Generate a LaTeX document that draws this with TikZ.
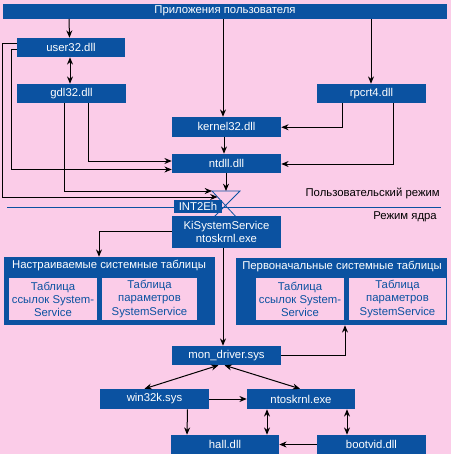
\documentclass[tikz,border=0pt]{standalone}
\usepackage{fontspec}
\setmainfont{Liberation Sans}
\usetikzlibrary{arrows.meta,calc}
\definecolor{bg}{HTML}{FBCCE8}
\definecolor{bx}{HTML}{0B52A1}
\begin{document}
\begin{tikzpicture}[x=0.75pt,y=-0.75pt,
  sz/.style 2 args={minimum width=#1*0.75pt,minimum height=#2*0.75pt},
  txt/.style={font=\fontsize{8.5}{9.8}\selectfont},
  blk/.style={txt,fill=bx,text=white,inner sep=0pt,align=center},
  pbox/.style={txt,fill=bg,text=bx,inner sep=0pt,align=center},
  bigbox/.style={fill=bx,inner sep=0pt},
  tip/.tip={Stealth[length=5.5pt,width=4.5pt,inset=1.8pt]},
  arr/.style={-tip,line width=0.75pt},
  darr/.style={tip-tip,line width=0.75pt},
  hg/.style={draw=bx,line width=0.6pt}]
\useasboundingbox (0,0) rectangle (451,454);
\fill[bg] (0,0) rectangle (451,454);

% separator line
\coordinate (sepL) at (7,207.5);
\coordinate (sepR) at (441,207.5);
\draw[bx,line width=0.75pt] (sepL) -- (sepR);

% hourglass
\coordinate (hgTL) at (212,191);
\coordinate (hgTR) at (240,191);
\coordinate (hgBL) at (211,220);
\coordinate (hgBR) at (239,220);
\coordinate (hgA) at (212,191);
\coordinate (hgB) at (217.5,197);
\coordinate (hgC) at (226,191);
\draw[hg] (hgBL) -- (hgTR) -- (hgTL) -- (hgBR);

% nodes
\node[blk,sz={444}{14.5}] (top) at (225,11.25) {Приложения пользователя};
\node[blk,sz={108}{19}] (user32) at (71,47.5) {user32.dll};
\node[blk,sz={109}{19}] (gdi32) at (71.5,93.5) {gdl32.dll};
\node[blk,sz={109}{19}] (rpcrt4) at (371.5,93.5) {rpcrt4.dll};
\node[blk,sz={109}{19.5}] (kernel32) at (226.5,126.75) {kernel32.dll};
\node[blk,sz={109}{19}] (ntdll) at (226.5,163.5) {ntdll.dll};
\node[blk,sz={48}{13}] (int) at (198,206.5) {INT2Eh};
\node[blk,sz={109}{32}] (ki) at (226.5,232) {KiSystemService\\ntoskrnl.exe};

\node[bigbox,sz={211}{68}] (lbox) at (109.5,291) {};
\node[txt,text=white,inner sep=0pt] (ltitle) at (109,266) {Настраиваемые системные таблицы};
\node[pbox,sz={88}{42}] (l1) at (53,299) {Таблица\\ссылок System-\\Service};
\node[pbox,sz={95}{42}] (l2) at (149.5,299) {Таблица\\параметров\\SystemService};

\node[bigbox,sz={211}{67}] (rbox) at (341.5,291.5) {};
\node[txt,text=white,inner sep=0pt] (rtitle) at (342,267) {Первоначальные системные таблицы};
\node[pbox,sz={88}{42}] (r1) at (300,299) {Таблица\\ссылок System-\\Service};
\node[pbox,sz={97}{42}] (r2) at (397.5,299) {Таблица\\параметров\\SystemService};

\node[blk,sz={109}{19}] (mon) at (226.5,355.5) {mon\_driver.sys};
\node[blk,sz={109}{20}] (win32k) at (154.5,399) {win32k.sys};
\node[blk,sz={108}{20}] (ntos) at (301,399) {ntoskrnl.exe};
\node[blk,sz={108}{19}] (hal) at (225,444.5) {hall.dll};
\node[blk,sz={109}{19}] (bootvid) at (371.5,444.5) {bootvid.dll};

\node[txt,anchor=east,inner sep=0pt] (umode) at (440,193) {Пользовательский режим};
\node[txt,anchor=east,inner sep=0pt] (kmode) at (437,217) {Режим ядра};

% connectors
\draw[arr] ($(top.south)+(-156,0)$) -- ($(user32.north)+(-1.5,0)$);
\draw[darr] ($(user32.south)+(-1,0)$) -- ($(gdi32.north)+(-1.5,0)$);
\draw[arr] ($(top.south)+(-2,0)$) -- ($(kernel32.north)+(-3.5,0)$);
\draw[arr] ($(top.south)+(146,0)$) -- ($(rpcrt4.north)+(-0.5,0)$);
\draw[arr] ($(rpcrt4.south)+(-29.5,0)$) |- ($(kernel32.east)+(0,0.5)$);
\draw[arr] ($(rpcrt4.south)+(21.5,0)$) |- ($(ntdll.east)+(0,0.5)$);
\draw[arr] ($(kernel32.south)+(-2.5,0)$) -- ($(ntdll.north)+(-2.5,0)$);
\draw[arr] ($(gdi32.south)+(16.5,0)$) |- ($(ntdll.west)+(0,-2.5)$);
\draw[arr] ($(user32.west)+(0,1.5)$) -- ++(-5,0) |- ($(ntdll.west)+(0,6)$);
\draw[arr] ($(user32.west)+(0,-4.5)$) -- ++(-14,0) |- (hgB);
\draw[arr] ($(gdi32.south)+(-7.5,0)$) |- (hgA);
\draw[arr] ($(ntdll.south)+(-0.5,0)$) -- (hgC);
\draw[arr] ($(ki.west)+(0,-0.5)$) -| ($(lbox.north)+(-10.5,0)$);
\draw[arr] ($(ki.south)+(-3.5,0)$) -- ($(mon.north)+(-3.5,0)$);
\draw[arr] (mon.east) -| ($(rbox.south)+(3.5,0)$);
\draw[darr] ($(mon.south)+(-8,0)$) -- ($(win32k.north)+(-10,0)$);
\draw[darr] ($(mon.south)+(-2,0)$) -- ($(ntos.north)+(-1,0)$);
\draw[arr] (win32k.east) -- (ntos.west);
\draw[arr] ($(win32k.south)+(33,0)$) -- ($(hal.north)+(-38,0)$);
\draw[darr] ($(ntos.south)+(-34,0)$) -- ($(hal.north)+(42,0)$);
\draw[darr] ($(ntos.south)+(46,0)$) -- ($(bootvid.north)+(-24.5,0)$);
\draw[arr] (bootvid.west) -- (hal.east);
\end{tikzpicture}
\end{document}
